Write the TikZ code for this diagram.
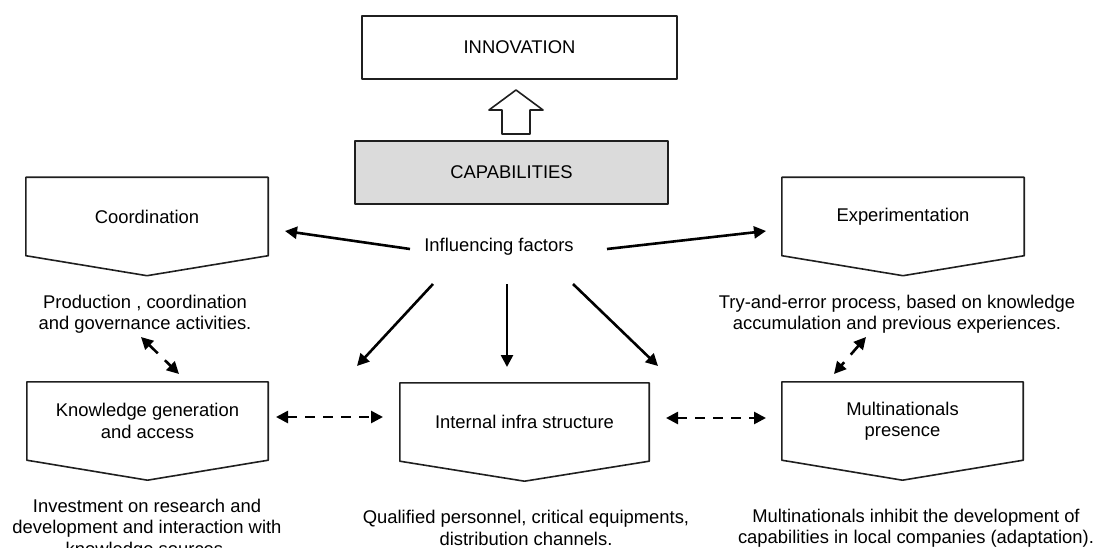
\documentclass[tikz,border=0pt]{standalone}
\usepackage{fontspec}
\setmainfont{Liberation Sans}
\usetikzlibrary{arrows.meta}
\newcommand\pentagonshape[1]{\draw[outline] (#1.north west) -- (#1.north east) -- (#1.south east) -- ([yshift=-20pt]#1.south) -- (#1.south west) -- cycle;}
\begin{document}
\begin{tikzpicture}[x=1pt,y=-1pt,
  every node/.style={font=\fontsize{18.4}{21.5}\selectfont, text=black, inner sep=0pt, align=center},
  pent/.style={minimum width=#1, minimum height=78pt},
  outline/.style={draw=black!88, line width=1.6pt, line join=round},
  solidarrow/.style={draw=black, line width=2.6pt, -{Triangle[length=12pt,width=12pt]}},
  dasharrow/.style={draw=black, line width=2.6pt, dash pattern=on 10pt off 8pt, {Triangle[length=12pt,width=12pt]}-{Triangle[length=12pt,width=12pt]}},
]
\useasboundingbox (0,0) rectangle (1094,548);
% top boxes
\node[outline, minimum width=315pt, minimum height=63pt] (innov) at (519.5,47.5) {INNOVATION};
\node[outline, fill=black!14, minimum width=313pt, minimum height=63pt] (cap) at (511.5,172.5) {CAPABILITIES};
% hollow block arrow
\draw[outline, fill=white] (502,134) -- (502,110) -- (489,110) -- (516,90) -- (543,110) -- (530,110) -- (530,134) -- cycle;
% pentagon boxes
\node[pent=242pt] (coord) at (147,216.5) {Coordination};
\node[pent=242pt] (exper) at (903,216.5) {Experimentation};
\node[pent=241pt] (know) at (147.5,421) {Knowledge generation\\and access};
\node[pent=249pt] (infra) at (524.5,422) {Internal infra structure};
\node[pent=241pt] (multi) at (902.5,421) {Multinationals\\presence};
\pentagonshape{coord}
\pentagonshape{exper}
\pentagonshape{know}
\pentagonshape{infra}
\pentagonshape{multi}
% central label
\node (inf) at (499,247) {Influencing factors};
% descriptive texts
\node (t1) at (145,314) {Production , coordination\\and governance activities.};
\node (t2) at (897,314) {Try-and-error process, based on knowledge\\accumulation and previous experiences.};
\node (t3) at (147,529) {Investment on research and\\development and interaction with\\knowledge sources.};
\node (t4) at (526,528) {Qualified personnel, critical equipments,\\distribution channels.};
\node (t5) at (916,528) {Multinationals inhibit the development of\\capabilities in local companies (adaptation).};
% connector end points
\coordinate (a1s) at (410,249); \coordinate (a1e) at (285,231);
\coordinate (a2s) at (607,249); \coordinate (a2e) at (766,231);
\coordinate (a3s) at (433,284); \coordinate (a3e) at (357,366);
\coordinate (a4s) at (507,284); \coordinate (a4e) at (507,367);
\coordinate (a5s) at (573,284); \coordinate (a5e) at (658,366);
\coordinate (d1s) at (276,417); \coordinate (d1e) at (383,417);
\coordinate (d2s) at (666,418); \coordinate (d2e) at (766,418);
\coordinate (e1s) at (141,337); \coordinate (e1e) at (179,374);
\coordinate (e2s) at (866,337); \coordinate (e2e) at (834,374);
% arrows
\draw[solidarrow] (a1s) -- (a1e);
\draw[solidarrow] (a2s) -- (a2e);
\draw[solidarrow] (a3s) -- (a3e);
\draw[solidarrow] (a4s) -- (a4e);
\draw[solidarrow] (a5s) -- (a5e);
\draw[dasharrow] (d1s) -- (d1e);
\draw[dasharrow] (d2s) -- (d2e);
\draw[dasharrow, dash pattern=on 12pt off 10pt] (e1s) -- (e1e);
\draw[dasharrow, dash pattern=on 12pt off 10pt] (e2s) -- (e2e);
\end{tikzpicture}
\end{document}
